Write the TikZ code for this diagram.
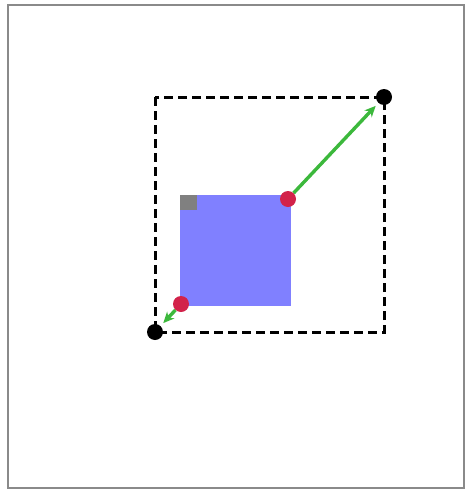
\documentclass[tikz,border=0pt]{standalone}
\usepackage{tikz}
\usetikzlibrary{arrows.meta,positioning}
\definecolor{BoxBlue}{HTML}{8080FF}
\definecolor{DotRed}{HTML}{D2224A}
\definecolor{LineGreen}{HTML}{3CB83C}
\definecolor{FrameGray}{HTML}{8A8A8A}
\begin{document}
\begin{tikzpicture}[x=1pt, y=-1pt]
\tikzset{corner/.style={circle, fill=black, inner sep=0pt, minimum size=16pt}}
\tikzset{hit/.style={circle, fill=DotRed, inner sep=0pt, minimum size=16pt}}
\tikzset{arrow/.style={-{Stealth[length=11pt, width=10pt]}, LineGreen, line width=3.4pt, shorten >=4pt}}
\useasboundingbox (0,0) rectangle (465,490);
\draw[FrameGray, line width=1.5pt] (8,5) rectangle (464,488);
% bounding box
\draw[line width=3pt, dash pattern=on 9pt off 5pt] (155,97) rectangle (384,332);
% shape
\fill[BoxBlue] (180,195) rectangle (291,306);
\fill[gray] (180,195) rectangle (197,210);
\node[corner] (low) at (155,332) {};
\node[corner] (high) at (384,97) {};
\node[hit] (hitlow) at (181,304) {};
\node[hit] (hithigh) at (288,199) {};
\draw[arrow] (hithigh) -- (high);
\draw[arrow] (hitlow) -- (low);
\end{tikzpicture}
\end{document}
